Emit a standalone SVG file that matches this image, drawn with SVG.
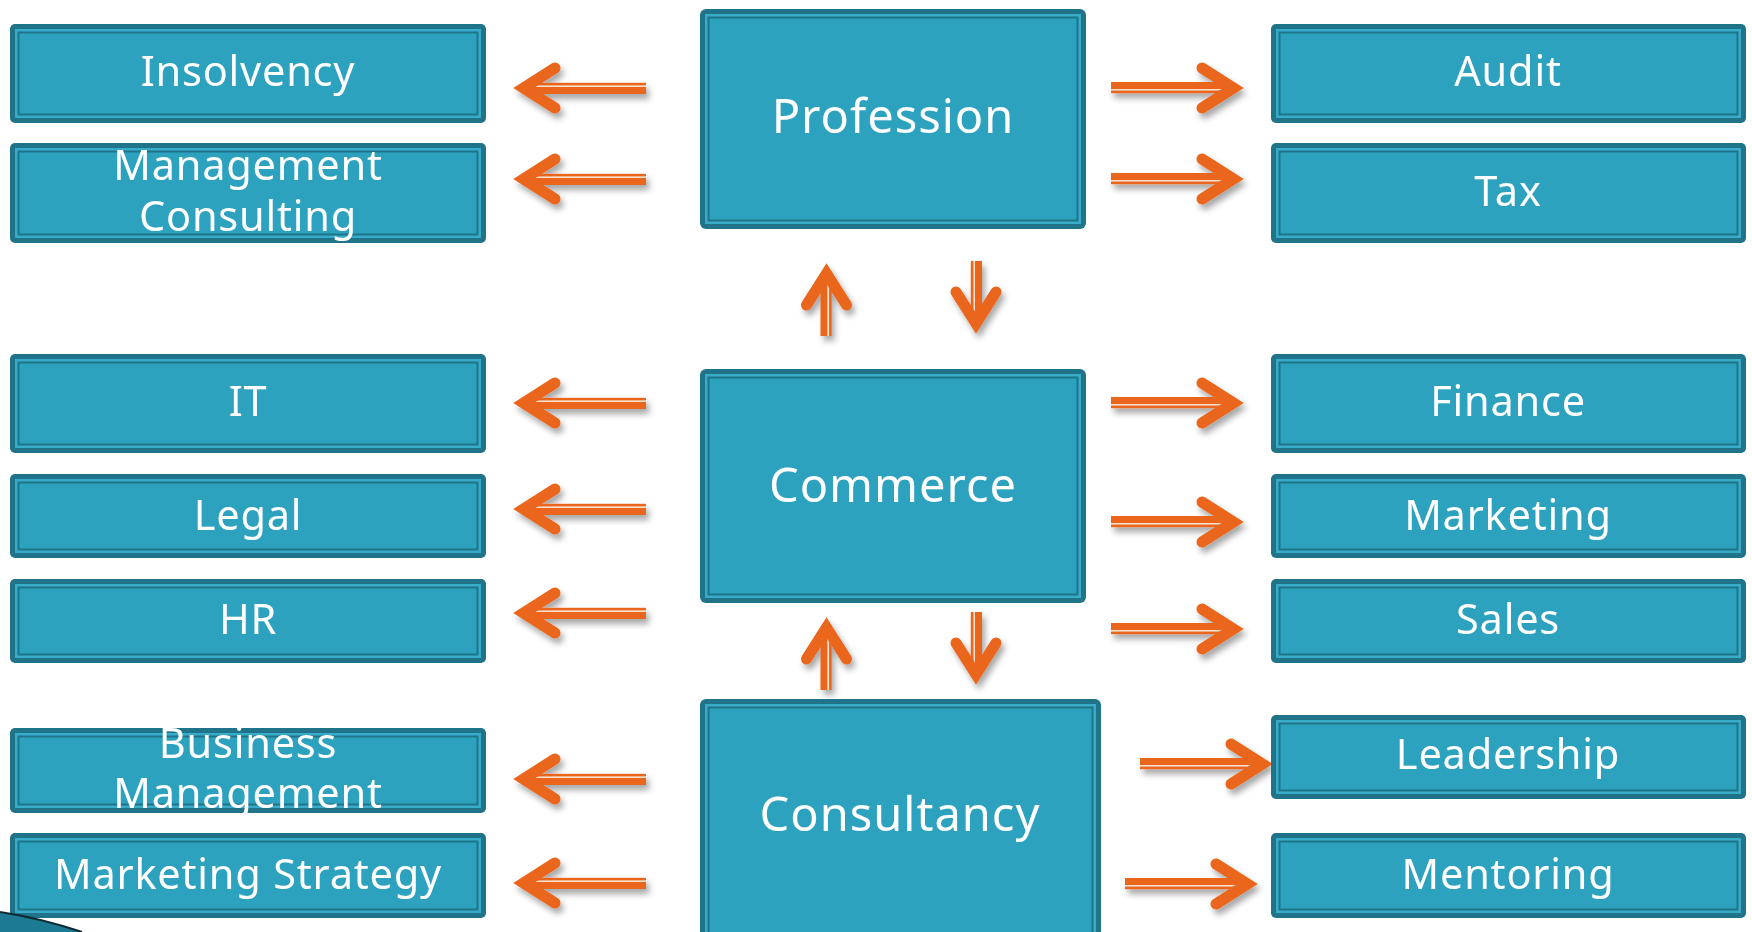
<svg xmlns="http://www.w3.org/2000/svg" xmlns:xlink="http://www.w3.org/1999/xlink" width="1752" height="932" viewBox="0 0 1752 932">
<style>
.o{fill:#1F7489}
.b{fill:#38ABC8}
.f{fill:#2DA2BF;stroke:#1F7489;stroke-width:2}
.t{fill:#FFFFFF;font-family:"Noto Sans","Open Sans","DejaVu Sans",sans-serif;font-size:41.5px;text-anchor:middle;letter-spacing:0.8px}
.T{fill:#FFFFFF;font-family:"Noto Sans","Open Sans","DejaVu Sans",sans-serif;font-size:47px;text-anchor:middle;letter-spacing:1px}
.ah{fill:none;stroke:#E9661E;stroke-width:11;stroke-linecap:round;stroke-linejoin:miter}
.as{fill:#E9661E}
.ag{fill:#FBE0CC}
</style>
<defs>
<filter id="sh" x="-30%" y="-60%" width="160%" height="220%">
<feDropShadow dx="3" dy="5" stdDeviation="3" flood-color="#000" flood-opacity="0.35"/>
</filter>
<g id="arrL">
<rect class="as" x="-134" y="-6" width="120" height="7"/>
<rect class="ag" x="-134" y="1" width="118" height="1.6"/>
<rect class="as" x="-134" y="2.6" width="118" height="2.6"/>
<path class="ah" d="M-43,-20 L-11.5,0 L-43,20"/>
</g>
<g id="arrS">
<rect class="as" x="-74" y="-6" width="60" height="7"/>
<rect class="ag" x="-74" y="1" width="58" height="1.6"/>
<rect class="as" x="-74" y="2.6" width="58" height="2.6"/>
<path class="ah" d="M-43,-20 L-11.5,0 L-43,20"/>
</g>
</defs>
<rect width="1752" height="932" fill="#FFFFFF"/>

<g id="connectors" filter="url(#sh)">
<use xlink:href="#arrL" href="#arrL" transform="translate(512,88) rotate(180)"/>
<use xlink:href="#arrL" href="#arrL" transform="translate(512,179) rotate(180)"/>
<use xlink:href="#arrL" href="#arrL" transform="translate(512,403) rotate(180)"/>
<use xlink:href="#arrL" href="#arrL" transform="translate(512,509) rotate(180)"/>
<use xlink:href="#arrL" href="#arrL" transform="translate(512,613) rotate(180)"/>
<use xlink:href="#arrL" href="#arrL" transform="translate(512,779) rotate(180)"/>
<use xlink:href="#arrL" href="#arrL" transform="translate(512,883) rotate(180)"/>
<use xlink:href="#arrL" href="#arrL" transform="translate(1245,88)"/>
<use xlink:href="#arrL" href="#arrL" transform="translate(1245,179)"/>
<use xlink:href="#arrL" href="#arrL" transform="translate(1245,403)"/>
<use xlink:href="#arrL" href="#arrL" transform="translate(1245,522)"/>
<use xlink:href="#arrL" href="#arrL" transform="translate(1245,629)"/>
<use xlink:href="#arrL" href="#arrL" transform="translate(1274,764)"/>
<use xlink:href="#arrL" href="#arrL" transform="translate(1259,884)"/>
<use xlink:href="#arrS" href="#arrS" transform="translate(826.5,262) rotate(-90)"/>
<use xlink:href="#arrS" href="#arrS" transform="translate(976,335) rotate(90)"/>
<use xlink:href="#arrS" href="#arrS" transform="translate(826.5,616) rotate(-90)"/>
<use xlink:href="#arrS" href="#arrS" transform="translate(976,686) rotate(90)"/>
</g>

<g id="insolvency">
<rect class="o" x="10" y="24" width="476" height="99" rx="5"/>
<rect class="b" x="15" y="29" width="466" height="89"/>
<rect class="f" x="18.5" y="32.5" width="459" height="82"/>
<text class="t" x="248" y="86">Insolvency</text>
</g>
<g id="management-consulting">
<rect class="o" x="10" y="143" width="476" height="100" rx="5"/>
<rect class="b" x="15" y="148" width="466" height="90"/>
<rect class="f" x="18.5" y="151.5" width="459" height="83"/>
<text class="t" x="248" y="180">Management</text>
<text class="t" x="248" y="231">Consulting</text>
</g>
<g id="it">
<rect class="o" x="10" y="354" width="476" height="99" rx="5"/>
<rect class="b" x="15" y="359" width="466" height="89"/>
<rect class="f" x="18.5" y="362.5" width="459" height="82"/>
<text class="t" x="248" y="416">IT</text>
</g>
<g id="legal">
<rect class="o" x="10" y="474" width="476" height="84" rx="5"/>
<rect class="b" x="15" y="479" width="466" height="74"/>
<rect class="f" x="18.5" y="482.5" width="459" height="67"/>
<text class="t" x="248" y="530">Legal</text>
</g>
<g id="hr">
<rect class="o" x="10" y="579" width="476" height="84" rx="5"/>
<rect class="b" x="15" y="584" width="466" height="74"/>
<rect class="f" x="18.5" y="587.5" width="459" height="67"/>
<text class="t" x="248" y="634">HR</text>
</g>
<g id="business-management">
<rect class="o" x="10" y="728" width="476" height="85" rx="5"/>
<rect class="b" x="15" y="733" width="466" height="75"/>
<rect class="f" x="18.5" y="736.5" width="459" height="68"/>
<text class="t" x="248" y="758">Business</text>
<text class="t" x="248" y="808">Management</text>
</g>
<g id="marketing-strategy">
<rect class="o" x="10" y="833" width="476" height="85" rx="5"/>
<rect class="b" x="15" y="838" width="466" height="75"/>
<rect class="f" x="18.5" y="841.5" width="459" height="68"/>
<text class="t" x="248" y="889">Marketing Strategy</text>
</g>

<g id="audit">
<rect class="o" x="1271" y="24" width="475" height="99" rx="5"/>
<rect class="b" x="1276" y="29" width="465" height="89"/>
<rect class="f" x="1279.5" y="32.5" width="458" height="82"/>
<text class="t" x="1508" y="86">Audit</text>
</g>
<g id="tax">
<rect class="o" x="1271" y="143" width="475" height="100" rx="5"/>
<rect class="b" x="1276" y="148" width="465" height="90"/>
<rect class="f" x="1279.5" y="151.5" width="458" height="83"/>
<text class="t" x="1508" y="206">Tax</text>
</g>
<g id="finance">
<rect class="o" x="1271" y="354" width="475" height="99" rx="5"/>
<rect class="b" x="1276" y="359" width="465" height="89"/>
<rect class="f" x="1279.5" y="362.5" width="458" height="82"/>
<text class="t" x="1508" y="416">Finance</text>
</g>
<g id="marketing">
<rect class="o" x="1271" y="474" width="475" height="84" rx="5"/>
<rect class="b" x="1276" y="479" width="465" height="74"/>
<rect class="f" x="1279.5" y="482.5" width="458" height="67"/>
<text class="t" x="1508" y="530">Marketing</text>
</g>
<g id="sales">
<rect class="o" x="1271" y="579" width="475" height="84" rx="5"/>
<rect class="b" x="1276" y="584" width="465" height="74"/>
<rect class="f" x="1279.5" y="587.5" width="458" height="67"/>
<text class="t" x="1508" y="634">Sales</text>
</g>
<g id="leadership">
<rect class="o" x="1271" y="715" width="475" height="84" rx="5"/>
<rect class="b" x="1276" y="720" width="465" height="74"/>
<rect class="f" x="1279.5" y="723.5" width="458" height="67"/>
<text class="t" x="1508" y="769">Leadership</text>
</g>
<g id="mentoring">
<rect class="o" x="1271" y="833" width="475" height="85" rx="5"/>
<rect class="b" x="1276" y="838" width="465" height="75"/>
<rect class="f" x="1279.5" y="841.5" width="458" height="68"/>
<text class="t" x="1508" y="889">Mentoring</text>
</g>

<g id="profession">
<rect class="o" x="700" y="9" width="386" height="220" rx="6"/>
<rect class="b" x="705" y="14" width="376" height="210"/>
<rect class="f" x="708.5" y="17.5" width="369" height="203"/>
<text class="T" x="893" y="133">Profession</text>
</g>
<g id="commerce">
<rect class="o" x="700" y="369" width="386" height="234" rx="6"/>
<rect class="b" x="705" y="374" width="376" height="224"/>
<rect class="f" x="708.5" y="377.5" width="369" height="217"/>
<text class="T" x="893" y="502">Commerce</text>
</g>
<g id="consultancy">
<rect class="o" x="700" y="699" width="401" height="245" rx="6"/>
<rect class="b" x="705" y="704" width="391" height="235"/>
<rect class="f" x="708.5" y="707.5" width="384" height="228"/>
<text class="T" x="900" y="831">Consultancy</text>
</g>

<path d="M0,912 Q40,918 82,932 L0,932 Z" fill="#1C7A94"/>
<path d="M0,912 Q40,918 82,932" fill="none" stroke="#0E2A33" stroke-width="2"/>
</svg>
